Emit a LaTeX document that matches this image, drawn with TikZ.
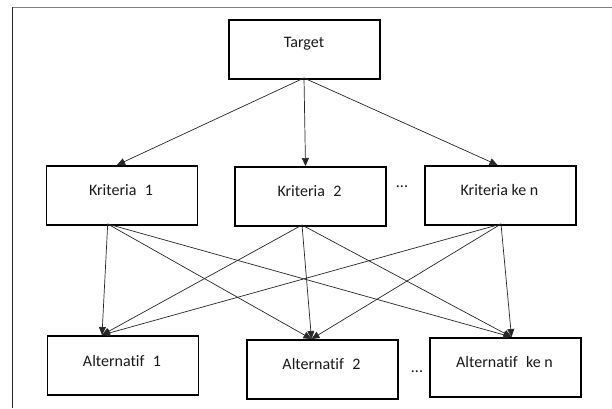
\documentclass[tikz,border=0pt]{standalone}
\usepackage{fontspec}
\setmainfont{Carlito}[Ligatures={NoCommon}]
\usetikzlibrary{arrows.meta}
\begin{document}
\begin{tikzpicture}[x=1pt,y=-1pt,
  box/.style={draw=black,line width=1.5pt,minimum width=151pt,minimum height=59pt,inner sep=0pt,
    anchor=north west},
  lbl/.style={font=\fontsize{16}{19}\selectfont,inner sep=0pt,text=black!90},
  conn/.style={line width=0.7pt,draw=black!85,-{Triangle[length=8pt,width=7pt]}}]
\useasboundingbox (0,0) rectangle (612,408);
\draw[gray,line width=1.6pt] (11.5,7.3) -- (612,7.3);
\draw[black!85,line width=1.2pt] (12.3,7) -- (12.3,408);
% boxes
\node[box] (T) at (228,19) {};
\node[lbl] (tT) at (304,44) {Target};
\node[box] (K1) at (45.5,165) {};
\node[lbl] (tK1) at (121,190) {Kriteria\hspace{0.3em} 1};
\node[box] (K2) at (234,166) {};
\node[lbl] (tK2) at (309.5,191) {Kriteria\hspace{0.3em} 2};
\node[box] (Kn) at (424,165) {};
\node[lbl] (tKn) at (499.5,190) {Kriteria ke n};
\node[lbl] (d1) at (402,187) {...};
\node[box] (A1) at (46.5,335) {};
\node[lbl] (tA1) at (122,361) {Alternatif\hspace{0.3em} 1};
\node[box] (A2) at (246,339) {};
\node[lbl] (tA2) at (321.5,364) {Alternatif\hspace{0.3em} 2};
\node[box] (An) at (429,337) {};
\node[lbl] (tAn) at (504.5,361.5) {Alternatif\hspace{0.3em} ke n};
\node[lbl] (d2) at (417,372) {...};
% connection points
\coordinate (Tb) at (304,78);
\coordinate (K1t) at (117,165);
\coordinate (K2t) at (305.5,166);
\coordinate (Knt) at (497.5,165);
\coordinate (K1b) at (107.7,224);
\coordinate (K2b) at (302,225);
\coordinate (Knb) at (501,224);
\coordinate (A1t) at (102,335);
\coordinate (A2t) at (311.5,339);
\coordinate (Ant) at (511.5,337);
\draw[conn] (Tb) -- (K1t);
\draw[conn] (Tb) -- (K2t);
\draw[conn] (Tb) -- (Knt);
\foreach \k in {K1b,K2b,Knb}{
  \foreach \a in {A1t,A2t,Ant}{
    \draw[conn] (\k) -- (\a);
  }
}
\end{tikzpicture}
\end{document}
